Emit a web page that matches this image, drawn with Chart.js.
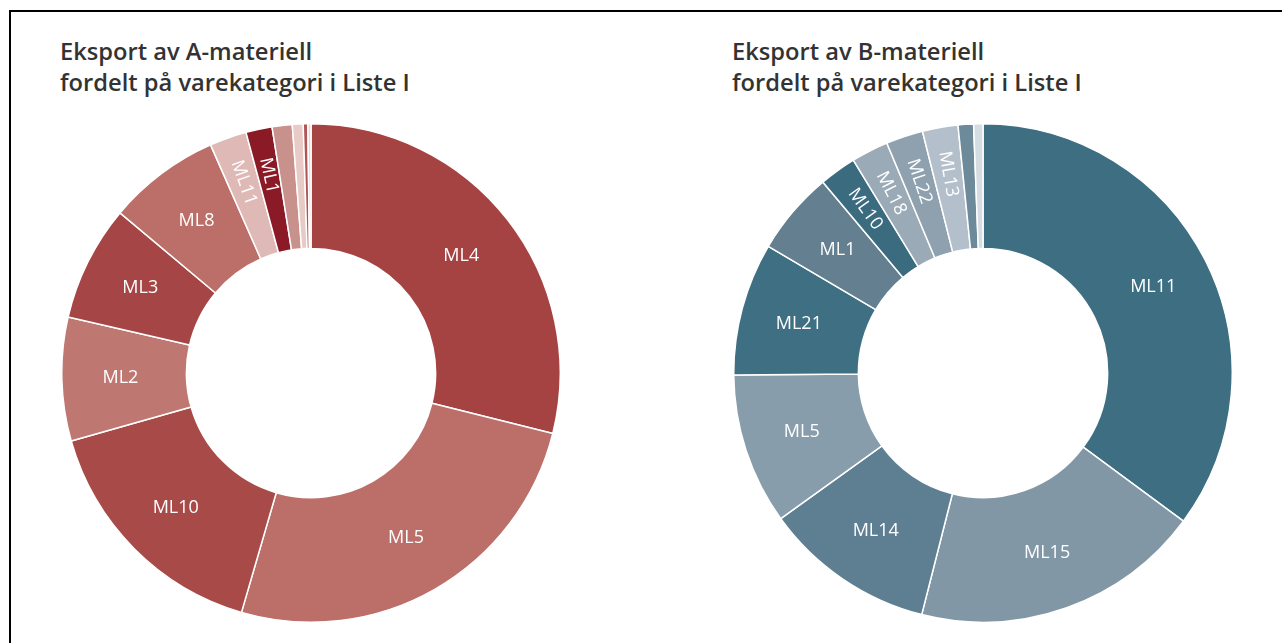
<!DOCTYPE html>
<html>
<head>
<meta charset="utf-8">
<script src="https://cdn.jsdelivr.net/npm/chart.js@4.4.1/dist/chart.umd.min.js"></script>
<style>
  html, body { margin: 0; padding: 0; background: #fff; }
  body { width: 1282px; height: 643px; position: relative; overflow: hidden; font-family: "Open Sans", sans-serif; }
  .frame { position: absolute; left: 9px; top: 10px; width: 1300px; height: 700px; border-top: 2px solid #000; border-left: 2px solid #000; }
  .title { position: absolute; font-family: "Open Sans", sans-serif; font-weight: 600; font-size: 23.7px; line-height: 31px; color: #333; white-space: nowrap; }
  .box { position: absolute; width: 500px; height: 500px; }
</style>
</head>
<body>
<div class="frame"></div>
<div class="title" style="left:60px; top:36px;">Eksport av A-materiell<br>fordelt på varekategori i Liste I</div>
<div class="title" style="left:732px; top:36px;">Eksport av B-materiell<br>fordelt på varekategori i Liste I</div>
<div class="box" style="left:61px; top:123px;"><canvas id="chartA" width="500" height="500"></canvas></div>
<div class="box" style="left:733px; top:123px;"><canvas id="chartB" width="500" height="500"></canvas></div>
<script>
// ---- Data (percent share) ----
const categoriesA = ['ML4', 'ML5', 'ML10', 'ML2', 'ML3', 'ML8', 'ML11', 'ML1', 'ML6', 'ML13', 'ML7', 'ML9'];
const valuesA     = [28.9, 25.6, 16.1, 8.0, 7.5, 7.3, 2.4, 1.7, 1.3, 0.7, 0.3, 0.2];

const categoriesB = ['ML11', 'ML15', 'ML14', 'ML5', 'ML21', 'ML1', 'ML10', 'ML18', 'ML22', 'ML13', 'ML4', 'ML2'];
const valuesB     = [35.1, 18.8, 11.1, 9.8, 8.6, 5.4, 2.4, 2.4, 2.4, 2.3, 1.0, 0.6];

// ---- Styles ----
const colorsA = ['#a54343', '#bb6f68', '#a84a48', '#be7871', '#a54545', '#bb6f68', '#dfb9b5', '#8b1a27', '#c9918b', '#e8cac6', '#b05555', '#ecd6d3'];
const colorsB = ['#3d6e82', '#8197a6', '#5e7f92', '#879dab', '#3f6f83', '#637f90', '#3a6b7f', '#9aaab6', '#8fa1ae', '#b3bfca', '#6d8a9b', '#d5dce2'];
// label mode per slice: 'h' horizontal, 'r' radial (rotated), null = no label
const labelModeA = ['h', 'h', 'h', 'h', 'h', 'h', 'r', 'r', null, null, null, null];
const labelModeB = ['h', 'h', 'h', 'h', 'h', 'h', 'r', 'r', 'r', 'r', null, null];

const sliceLabels = {
  id: 'sliceLabels',
  afterDatasetsDraw(chart, args, opts) {
    const ctx = chart.ctx;
    const meta = chart.getDatasetMeta(0);
    const labels = chart.data.labels;
    meta.data.forEach((arc, i) => {
      const mode = opts.modes[i];
      if (!mode) return;
      const p = arc.getProps(['x', 'y', 'startAngle', 'endAngle', 'outerRadius'], true);
      const a = (p.startAngle + p.endAngle) / 2;
      const r = p.outerRadius * (mode === 'r' ? 0.81 : 0.765);
      ctx.save();
      ctx.translate(p.x + Math.cos(a) * r, p.y + Math.sin(a) * r);
      if (mode === 'r') ctx.rotate(a + Math.PI);
      ctx.font = '18px "Open Sans"';
      ctx.fillStyle = '#ffffff';
      ctx.textAlign = 'center';
      ctx.textBaseline = 'middle';
      ctx.fillText(labels[i], 0, 0);
      ctx.restore();
    });
  }
};

function makeChart(id, cats, vals, cols, modes) {
  return new Chart(document.getElementById(id), {
    type: 'doughnut',
    data: {
      labels: cats,
      datasets: [{
        data: vals,
        backgroundColor: cols,
        borderColor: '#ffffff',
        borderWidth: 1.5,
        hoverOffset: 0
      }]
    },
    options: {
      responsive: false,
      animation: false,
      cutout: '50%',
      layout: { padding: 0 },
      plugins: {
        legend: { display: false },
        tooltip: { enabled: false },
        title: { display: false },
        sliceLabels: { modes: modes }
      }
    },
    plugins: [sliceLabels]
  });
}

makeChart('chartA', categoriesA, valuesA, colorsA, labelModeA);
makeChart('chartB', categoriesB, valuesB, colorsB, labelModeB);
</script>
</body>
</html>
